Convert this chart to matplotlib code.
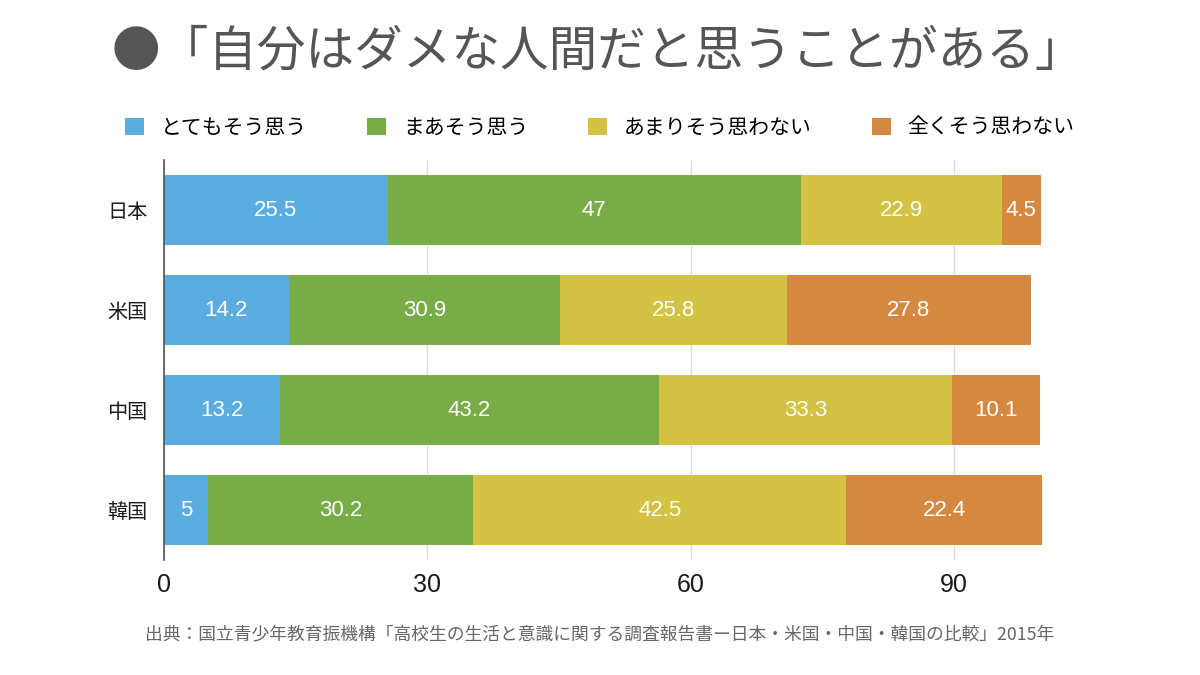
import matplotlib
matplotlib.use("Agg")
import matplotlib.pyplot as plt

plt.rcParams['font.family'] = ['Noto Sans CJK JP', 'DejaVu Sans']

# data
countries = ["日本", "米国", "中国", "韓国"]
answers = ["とてもそう思う", "まあそう思う", "あまりそう思わない", "全くそう思わない"]
very_much = [25.5, 14.2, 13.2, 5]
somewhat = [47, 30.9, 43.2, 30.2]
not_really = [22.9, 25.8, 33.3, 42.5]
not_at_all = [4.5, 27.8, 10.1, 22.4]
series = [very_much, somewhat, not_really, not_at_all]
colors = ["#5badE0", "#78ac47", "#d4c245", "#d5883f"]
xticks = [0, 30, 60, 90]

title = "●「自分はダメな人間だと思うことがある」"
source = "出典：国立青少年教育振機構「高校生の生活と意識に関する調査報告書ー日本・米国・中国・韓国の比較」2015年"

latin = ['Liberation Sans', 'Noto Sans CJK JP']

fig = plt.figure(figsize=(12, 6.75), dpi=100)
ax = fig.add_axes([164 / 1200, 115 / 675, 878 / 1200, 400 / 675])

ypos = list(range(len(countries)))
left = [0] * len(countries)
handles = []
for vals, col, name in zip(series, colors, answers):
    bars = ax.barh(ypos, vals, left=left, height=0.7, color=col, label=name, zorder=2)
    handles.append(bars)
    for y, l, v in zip(ypos, left, vals):
        ax.text(l + v / 2, y, f"{v:g}", ha="center", va="center",
                color="white", fontsize=16, family=latin, zorder=3)
    left = [a + b for a, b in zip(left, vals)]

ax.set_xlim(0, 100)
ax.set_ylim(3.5, -0.5)
ax.set_yticks(ypos)
ax.set_yticklabels(countries, fontsize=14.5, color="#1a1a1a")
ax.set_xticks(xticks)
ax.set_xticklabels([str(t) for t in xticks], fontsize=18, color="#1a1a1a", family=latin)
ax.tick_params(axis="both", length=0)
ax.tick_params(axis="y", pad=12)
ax.tick_params(axis="x", pad=9)
ax.grid(axis="x", color="#dddddd", linewidth=1, zorder=0)
for s in ["top", "right", "bottom"]:
    ax.spines[s].set_visible(False)
ax.spines["left"].set_color("#555555")
ax.spines["left"].set_linewidth(1.2)
ax.spines["left"].set_zorder(4)

fig.legend(handles=handles, labels=answers, loc="center", bbox_to_anchor=(0.5, 1 - 128 / 675),
           ncol=4, frameon=False, fontsize=15, handlelength=0.9, handleheight=0.9,
           handletextpad=0.8, columnspacing=2.9)

fig.text(0.498, 1 - 52 / 675, title, ha="center", va="center", fontsize=35, color="#555555")
fig.text(0.5, 1 - 634 / 675, source, ha="center", va="center", fontsize=12.8, color="#666666")

fig.savefig("out.png", dpi=100, facecolor="white")
